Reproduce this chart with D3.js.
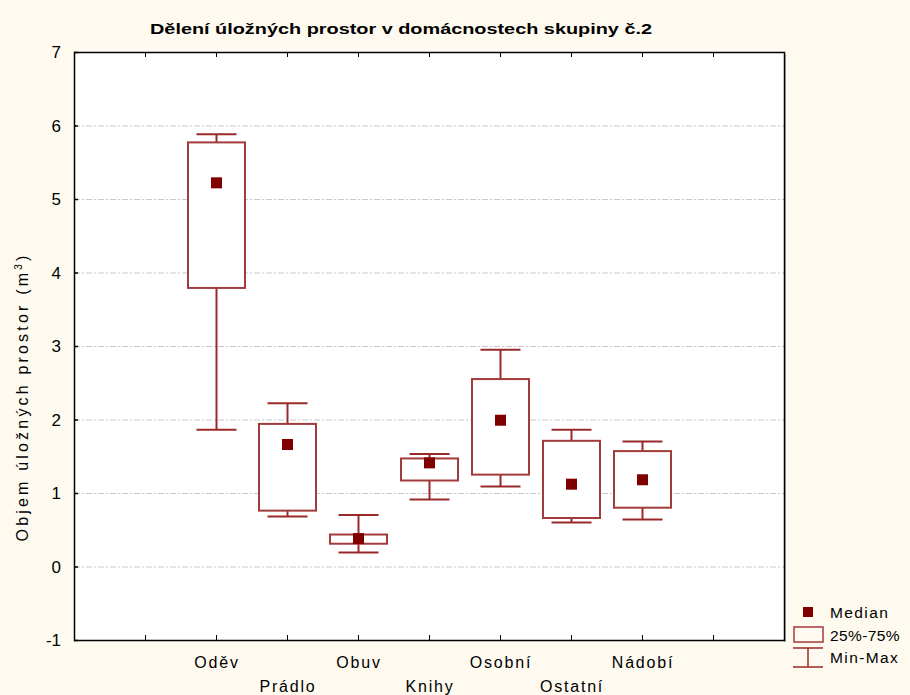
<!DOCTYPE html>
<html><head><meta charset="utf-8">
<script src="https://cdn.jsdelivr.net/npm/d3@7"></script>
<style>body{margin:0;background:#fefaf0;} svg{display:block;}</style>
</head><body>
<script>
const categories = ["Oděv","Prádlo","Obuv","Knihy","Osobní","Ostatní","Nádobí"];
const minVals    = [1.86, 0.68, 0.19, 0.91, 1.09, 0.60, 0.64];
const q1Vals     = [3.79, 0.76, 0.31, 1.17, 1.25, 0.66, 0.80];
const medianVals = [5.22, 1.66, 0.38, 1.41, 1.99, 1.12, 1.18];
const q3Vals     = [5.77, 1.94, 0.435, 1.47, 2.55, 1.71, 1.57];
const maxVals    = [5.88, 2.22, 0.70, 1.53, 2.95, 1.86, 1.70];
const yTicks = [-1,0,1,2,3,4,5,6,7];
const title = "Dělení úložných prostor v domácnostech skupiny č.2";

const W = 910, H = 695;
const svg = d3.select("body").append("svg").attr("width", W).attr("height", H);
svg.append("rect").attr("width", W).attr("height", H).attr("fill", "#fefaf0");

const L = 74, R = 784, T = 52, B = 640;
const x = d3.scaleLinear().domain([0, 10]).range([L, R]);
const y = d3.scaleLinear().domain([-1, 7]).range([B, T]);
const boxColor = "#a23b3b", whiskColor = "#9a2a2a", medColor = "#800000";

// plot area
svg.append("rect").attr("x", L).attr("y", T).attr("width", R - L).attr("height", B - T).attr("fill", "#fff");

// grid
svg.append("g").selectAll("line").data(yTicks.filter(v => v > -1 && v < 7)).join("line")
  .attr("x1", L).attr("x2", R).attr("y1", d => y(d) + 0.5).attr("y2", d => y(d) + 0.5)
  .attr("stroke", "#c8c8c8").attr("stroke-width", 1).attr("stroke-dasharray", "6,2,2,2");

// frame
svg.append("rect").attr("x", R).attr("y", T + 2).attr("width", 2).attr("height", B - T).attr("fill", "#bbb");
svg.append("rect").attr("x", L + 0.5).attr("y", T + 0.5).attr("width", R - L).attr("height", B - T)
  .attr("fill", "none").attr("stroke", "#000").attr("stroke-width", 1.5);

// x ticks (inward, bottom and top)
const xt = d3.range(1, 10);
svg.append("g").selectAll("line").data(xt).join("line")
  .attr("x1", d => Math.round(x(d)) + 0.5).attr("x2", d => Math.round(x(d)) + 0.5)
  .attr("y1", B).attr("y2", B - 5).attr("stroke", "#000");
svg.append("g").selectAll("line").data(xt).join("line")
  .attr("x1", d => Math.round(x(d)) + 0.5).attr("x2", d => Math.round(x(d)) + 0.5)
  .attr("y1", T).attr("y2", T + 5).attr("stroke", "#000");
// y ticks inward
svg.append("g").selectAll("line").data(yTicks).join("line")
  .attr("x1", L).attr("x2", L + 4).attr("y1", d => y(d) + 0.5).attr("y2", d => y(d) + 0.5)
  .attr("stroke", "#000").attr("stroke-width", 1.5);

const font = "'Liberation Sans', Arial, sans-serif";
// y tick labels
svg.append("g").selectAll("text").data(yTicks).join("text")
  .attr("x", 61).attr("y", d => y(d) + 6).attr("text-anchor", "end")
  .attr("font-family", font).attr("font-size", 17).attr("fill", "#000").text(d => d);

// category labels
svg.append("g").selectAll("text").data(categories).join("text")
  .attr("x", (d, i) => x(i + 2) + 1).attr("y", (d, i) => i % 2 === 0 ? 668 : 692)
  .attr("text-anchor", "middle").attr("font-family", font).attr("font-size", 16)
  .attr("letter-spacing", 1.8).attr("fill", "#000").text(d => d);

// y axis title
const yt = svg.append("text").attr("transform", "translate(28,397) rotate(-90)")
  .attr("text-anchor", "middle").attr("font-family", font).attr("font-size", 16).attr("fill", "#000");
yt.append("tspan").text("Objem úložných prostor (m");
yt.append("tspan").attr("dy", -6).attr("font-size", 10).text("3");
yt.append("tspan").attr("dy", 6).text(")");
{
  const len = yt.node().getComputedTextLength();
  const ls = Math.max(0, (292 - len) / 28);
  yt.attr("letter-spacing", ls);
}

// title
svg.append("text").attr("x", 150).attr("y", 34).attr("font-family", font).attr("font-weight", "bold")
  .attr("font-size", 15.5).attr("textLength", 502).attr("lengthAdjust", "spacingAndGlyphs")
  .attr("fill", "#000").text(title);

// boxes
const bw = 57, cw = 40, ms = 11;
const g = svg.append("g");
categories.forEach((c, i) => {
  const cx = Math.round(x(i + 2)) + 0.5;
  g.append("line").attr("x1", cx).attr("x2", cx).attr("y1", y(maxVals[i])).attr("y2", y(q3Vals[i]))
    .attr("stroke", whiskColor).attr("stroke-width", 2);
  g.append("line").attr("x1", cx).attr("x2", cx).attr("y1", y(q1Vals[i])).attr("y2", y(minVals[i]))
    .attr("stroke", whiskColor).attr("stroke-width", 2);
  g.append("line").attr("x1", cx - cw / 2).attr("x2", cx + cw / 2).attr("y1", y(maxVals[i])).attr("y2", y(maxVals[i]))
    .attr("stroke", whiskColor).attr("stroke-width", 2);
  g.append("line").attr("x1", cx - cw / 2).attr("x2", cx + cw / 2).attr("y1", y(minVals[i])).attr("y2", y(minVals[i]))
    .attr("stroke", whiskColor).attr("stroke-width", 2);
  g.append("rect").attr("x", cx - bw / 2).attr("y", y(q3Vals[i])).attr("width", bw)
    .attr("height", y(q1Vals[i]) - y(q3Vals[i])).attr("fill", "#fff")
    .attr("stroke", boxColor).attr("stroke-width", 2);
  g.append("rect").attr("x", cx - ms / 2).attr("y", y(medianVals[i]) - ms / 2).attr("width", ms).attr("height", ms)
    .attr("fill", medColor);
});

// legend
const lg = svg.append("g");
lg.append("rect").attr("x", 803).attr("y", 607).attr("width", 10).attr("height", 10).attr("fill", medColor);
lg.append("rect").attr("x", 794).attr("y", 627).attr("width", 29).attr("height", 15)
  .attr("fill", "none").attr("stroke", boxColor).attr("stroke-width", 1.5);
lg.append("line").attr("x1", 793).attr("x2", 823).attr("y1", 648).attr("y2", 648).attr("stroke", whiskColor).attr("stroke-width", 1.5);
lg.append("line").attr("x1", 793).attr("x2", 823).attr("y1", 667).attr("y2", 667).attr("stroke", whiskColor).attr("stroke-width", 1.5);
lg.append("line").attr("x1", 808).attr("x2", 808).attr("y1", 648).attr("y2", 667).attr("stroke", whiskColor).attr("stroke-width", 1.5);
const legTexts = ["Median", "25%-75%", "Min-Max"];
lg.selectAll("text").data(legTexts).join("text")
  .attr("x", 830).attr("y", (d, i) => 618 + i * 22.5)
  .attr("font-family", font).attr("font-size", 15.5).attr("letter-spacing", (d, i) => i === 1 ? 0.4 : 1.4)
  .attr("fill", "#000").text(d => d);
</script>
</body></html>
